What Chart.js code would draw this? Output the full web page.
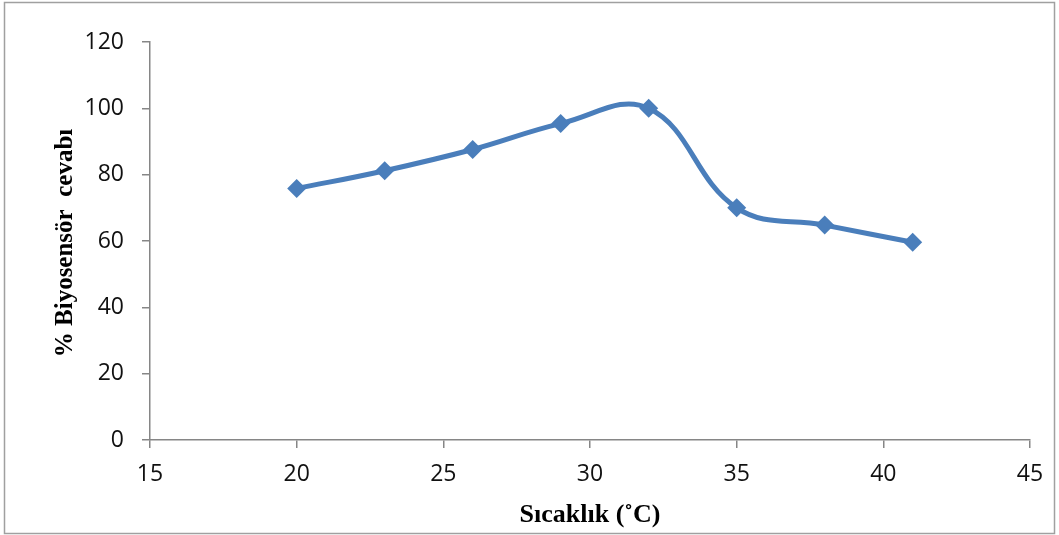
<!DOCTYPE html>
<html>
<head>
<meta charset="utf-8">
<script src="https://cdn.jsdelivr.net/npm/chart.js@4"></script>
<style>
  body { margin: 0; padding: 0; background: #fff; }
</style>
</head>
<body>
<canvas id="chart" width="1059" height="535"></canvas>
<script>
// temperature (°C) and sensor response (%)
const temps = [20, 23, 26, 29, 32, 35, 38, 41];
const response = [75.8, 81.2, 87.6, 95.4, 100, 70, 64.8, 59.6];

const xTitle = 'Sıcaklık (˚C)';
const yTitle = '% Biyosensör  cevabı';

const axisColor = '#868686';
const lineColor = '#4a7ebb';

// frame round the whole chart plus the two axis titles
const framePlugin = {
  id: 'frame',
  beforeDraw(chart) {
    const ctx = chart.ctx;
    ctx.save();
    ctx.strokeStyle = '#a0a0a0';
    ctx.lineWidth = 1.5;
    ctx.strokeRect(4.5, 2.5, 1050, 531);
    ctx.restore();
  },
  afterDraw(chart) {
    const ctx = chart.ctx;
    const area = chart.chartArea;
    ctx.save();
    ctx.fillStyle = '#000';
    ctx.textAlign = 'center';
    ctx.textBaseline = 'alphabetic';
    ctx.font = 'bold 26px "Liberation Serif"';
    ctx.fillText(xTitle, (area.left + area.right) / 2, 522);
    ctx.font = 'bold 25px "Liberation Serif"';
    ctx.textBaseline = 'middle';
    ctx.translate(66, 243);
    ctx.rotate(-Math.PI / 2);
    ctx.fillText(yTitle, 0, 0);
    ctx.restore();
  }
};

new Chart(document.getElementById('chart'), {
  type: 'line',
  data: {
    datasets: [{
      data: temps.map((t, i) => ({ x: t, y: response[i] })),
      borderColor: lineColor,
      backgroundColor: lineColor,
      borderWidth: 5,
      tension: 0.4,
      pointStyle: 'rectRot',
      pointRadius: 9.5,
      pointHoverRadius: 9.5,
      pointBorderWidth: 0
    }]
  },
  options: {
    responsive: false,
    animation: false,
    layout: { padding: { top: 42, right: 29, left: 0, bottom: 0 } },
    plugins: { legend: { display: false }, tooltip: { enabled: false } },
    scales: {
      x: {
        type: 'linear',
        min: 15,
        max: 45,
        afterFit(scale) { scale.height = 95; },
        border: { color: axisColor, width: 1.5 },
        grid: { drawOnChartArea: false, color: axisColor, tickLength: 8, lineWidth: 1.5 },
        ticks: { stepSize: 5, color: '#111', padding: 13, font: { family: '"Open Sans"', size: 23 } }
      },
      y: {
        min: 0,
        max: 120,
        afterFit(scale) { scale.width = 150; },
        border: { color: axisColor, width: 1.5 },
        grid: { drawOnChartArea: false, color: axisColor, tickLength: 8, lineWidth: 1.5 },
        ticks: { stepSize: 20, color: '#111', padding: 18, font: { family: '"Open Sans"', size: 23 } }
      }
    }
  },
  plugins: [framePlugin]
});
</script>
</body>
</html>
